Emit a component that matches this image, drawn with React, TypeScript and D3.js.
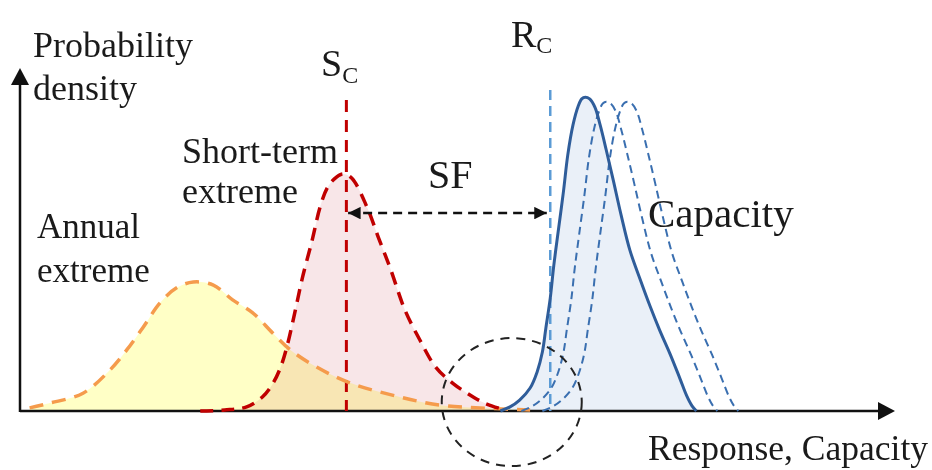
import React from "react";
import * as d3 from "d3";

// ---- data (abstract units: response 0..100, density 0..100) ----
const annualExtreme: [number, number][] = [
  [1.1, 0.9], [3.4, 2.3], [7.2, 5.2], [10.3, 12.0], [12.2, 17.8], [14.1, 24.5],
  [16.0, 31.5], [17.9, 35.9], [19.8, 37.6], [22.1, 36.7], [24.3, 32.4], [26.6, 28.6],
  [28.9, 22.7], [30.9, 17.8], [33.9, 12.8], [37.7, 8.2], [43.4, 4.1], [48.0, 1.7],
  [52.6, 0.9], [58.3, 0.3],
];
const shortTermExtreme: [number, number][] = [
  [20.6, 0], [23.4, 0.3], [25.9, 1.2], [27.7, 4.1], [28.8, 7.6], [29.7, 12.2],
  [30.5, 18.7], [31.4, 28.6], [32.3, 39.1], [33.4, 49.9], [34.3, 59.5], [35.1, 65.0],
  [35.9, 67.6], [36.9, 69.1], [37.9, 67.9], [39.7, 59.2], [40.9, 51.0], [42.3, 41.7],
  [44.0, 29.4], [45.7, 20.7], [47.5, 12.8], [49.4, 8.2], [51.1, 5.2], [53.1, 2.3],
  [55.4, 0.3],
];
const capacity: [number, number][] = [
  [54.9, 0], [56.0, 1.2], [57.1, 3.2], [58.3, 6.7], [59.1, 11.4], [59.7, 17.2],
  [60.1, 24.2], [60.6, 32.9], [61.0, 42.3], [61.5, 52.2], [62.1, 63.8], [62.6, 74.6],
  [63.2, 83.4], [63.8, 88.9], [64.2, 91.0], [64.6, 91.5], [65.1, 91.0], [65.7, 88.6],
  [66.3, 83.4], [67.0, 76.1], [67.8, 67.3], [68.7, 57.1], [69.7, 46.9], [70.9, 38.2],
  [72.0, 30.6], [73.1, 23.6], [74.3, 16.6], [75.4, 9.6], [76.2, 4.4], [76.8, 1.5],
  [77.3, 0],
];
const capacityShifts = [2.4, 4.8];
const capacityScales = [0.985, 0.985];
const sc = { x: 37.3, top: 90.7 };
const rc = { x: 60.6, top: 93.6 };
const sfArrow = { y: 57.7, from: 37.5, to: 60.2 };
const zoomCircle = { x: 56.2, y: 2.6 };

const W = 932;
const H = 470;
const FONT = "'Liberation Serif', 'Times New Roman', serif";

export default function App() {
  React.useEffect(() => {
    document.body.style.margin = "0";
  }, []);

  const x = d3.scaleLinear().domain([0, 100]).range([20, 895]);
  const y = d3.scaleLinear().domain([0, 100]).range([411, 68]);
  const curve = d3.curveCatmullRom.alpha(0.5);

  const line = d3.line<[number, number]>().x(d => x(d[0])).y(d => y(d[1])).curve(curve);
  const area = d3.area<[number, number]>().x(d => x(d[0])).y0(y(0)).y1(d => y(d[1])).curve(curve);

  const shifted = capacityShifts.map((s, i) =>
    capacity.map(([a, b]) => [a + s, b * capacityScales[i]] as [number, number])
  );

  const x0 = x(0), y0 = y(0), xEnd = x(100), yTop = y(100);
  const textFill = "#1a1a1a";

  return (
    <svg width={W} height={H} style={{ position: "absolute", left: 0, top: 0, background: "#fff" }}>
      <defs>
        <marker id="ah" viewBox="0 0 10 10" refX="10" refY="5" markerWidth="5" markerHeight="5" orient="auto-start-reverse" markerUnits="strokeWidth">
          <path d="M0,0 L10,5 L0,10 z" fill="#111" />
        </marker>
      </defs>
      {/* fills */}
      <path d={area(annualExtreme) || ""} fill="#ffffc6" />
      <path d={area(shortTermExtreme) || ""} fill="#f8e6e8" style={{ mixBlendMode: "multiply" }} />
      <path d={area(capacity) || ""} fill="#eaf0f8" style={{ mixBlendMode: "multiply" }} />

      {/* axes */}
      <line x1={x0} y1={y0} x2={xEnd - 14} y2={y0} stroke="#111" strokeWidth={2.5} />
      <path d={`M${xEnd},${y0} L${xEnd - 17},${y0 - 9} L${xEnd - 17},${y0 + 9} Z`} fill="#111" />
      <line x1={x0} y1={y0 + 1} x2={x0} y2={yTop + 14} stroke="#111" strokeWidth={2.5} />
      <path d={`M${x0},${yTop} L${x0 - 9},${yTop + 17} L${x0 + 9},${yTop + 17} Z`} fill="#111" />

      {/* Sc and Rc lines */}
      <line x1={x(sc.x)} y1={y(sc.top)} x2={x(sc.x)} y2={y0} stroke="#c00000" strokeWidth={3} strokeDasharray="12 8" />
      <line x1={x(rc.x)} y1={y(rc.top)} x2={x(rc.x)} y2={y0} stroke="#5b9bd5" strokeWidth={2.5} strokeDasharray="10 6" />

      {/* curves */}
      <path d={line(annualExtreme) || ""} fill="none" stroke="#f59b4c" strokeWidth={3.5} strokeDasharray="14 9" />
      <path d={line(shortTermExtreme) || ""} fill="none" stroke="#c00000" strokeWidth={3.5} strokeDasharray="13 8" />
      {shifted.map((s, i) => (
        <path key={i} d={line(s) || ""} fill="none" stroke="#3a6fb0" strokeWidth={2} strokeDasharray="8 5" />
      ))}
      <path d={line(capacity) || ""} fill="none" stroke="#2f5d9a" strokeWidth={3} />

      {/* SF arrow */}
      <line x1={x(sfArrow.from)} y1={y(sfArrow.y)} x2={x(sfArrow.to)} y2={y(sfArrow.y)} stroke="#111" strokeWidth={2.5}
        strokeDasharray="9 6" markerStart="url(#ah)" markerEnd="url(#ah)" />

      {/* zoom circle */}
      <ellipse cx={x(zoomCircle.x)} cy={y(zoomCircle.y)} rx={70} ry={64} fill="none" stroke="#222" strokeWidth={2} strokeDasharray="9 7" />

      {/* texts */}
      <g fontFamily={FONT} fill={textFill}>
        <text x={33} y={57} fontSize={36}>Probability</text>
        <text x={33} y={100} fontSize={36}>density</text>
        <text x={182} y={163} fontSize={36}>Short-term</text>
        <text x={182} y={203} fontSize={36}>extreme</text>
        <text x={37} y={238} fontSize={35}>Annual</text>
        <text x={37} y={282} fontSize={35}>extreme</text>
        <text x={428} y={188} fontSize={40}>SF</text>
        <text x={648} y={227} fontSize={41}>Capacity</text>
        <text x={648} y={460} fontSize={35.5}>Response, Capacity</text>
        <text x={321} y={76} fontSize={38}>S<tspan fontSize={24} dy={7}>C</tspan></text>
        <text x={511} y={47} fontSize={38}>R<tspan fontSize={24} dy={6}>C</tspan></text>
      </g>
    </svg>
  );
}
